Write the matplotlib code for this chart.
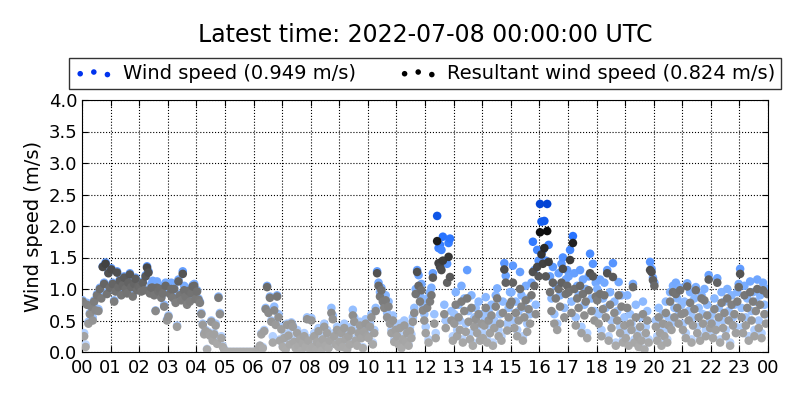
import numpy as np
import matplotlib
matplotlib.use("Agg")
import matplotlib.pyplot as plt
from matplotlib.colors import LinearSegmentedColormap

# 3-minute samples, one row per hour (00..23)
wind_speed = [
    0.82, 0.30, 0.12, 0.78, 0.48, 0.62, 0.75, 0.55, 0.82, 0.70, 0.92, 0.68, 1.02, 0.88, 1.36, 1.10, 1.42, 0.95, 1.26, 1.05,
    1.33, 1.10, 0.82, 0.98, 1.28, 1.05, 1.15, 0.92, 1.08, 1.20, 1.02, 0.95, 1.12, 1.25, 1.05, 0.90, 1.10, 1.18, 1.00, 1.06,
    1.05, 0.98, 1.12, 1.00, 1.22, 1.36, 1.28, 0.95, 1.08, 1.13, 0.92, 0.66, 1.12, 0.98, 1.05, 0.88, 0.96, 0.75, 1.10, 0.52,
    0.58, 0.95, 1.10, 0.88, 1.02, 0.80, 0.42, 1.15, 0.92, 0.85, 1.28, 1.05, 0.90, 0.78, 1.00, 0.82, 0.95, 1.06, 1.08, 0.86,
    0.98, 0.85, 0.80, 0.62, 0.45, 0.30, 0.35, 0.05, 0.32, 0.28, 0.50, 0.20, 0.30, 0.45, 0.15, 0.88, 0.62, 0.25, 0.10, 0.05,
    0.00, 0.00, 0.00, 0.00, 0.00, 0.00, 0.00, 0.00, 0.00, 0.00, 0.00, 0.00, 0.00, 0.00, 0.00, 0.00, 0.00, 0.00, 0.00, 0.00,
    0.00, 0.00, 0.02, 0.05, 0.10, 0.30, 0.08, 0.35, 0.70, 1.05, 0.65, 0.88, 0.50, 0.25, 0.72, 0.45, 0.90, 0.60, 0.20, 0.40,
    0.10, 0.25, 0.05, 0.45, 0.30, 0.15, 0.47, 0.42, 0.20, 0.08, 0.35, 0.12, 0.25, 0.02, 0.18, 0.30, 0.10, 0.55, 0.22, 0.05,
    0.54, 0.10, 0.30, 0.05, 0.20, 0.38, 0.15, 0.02, 0.25, 0.45, 0.12, 0.35, 0.08, 0.22, 0.70, 0.58, 0.30, 0.15, 0.40, 0.10,
    0.20, 0.35, 0.10, 0.45, 0.25, 0.05, 0.30, 0.15, 0.40, 0.67, 0.55, 0.22, 0.12, 0.35, 0.48, 0.28, 0.08, 0.38, 0.52, 0.30,
    0.25, 0.45, 0.60, 0.15, 0.35, 0.70, 1.28, 1.10, 0.95, 1.02, 0.85, 0.75, 0.90, 0.62, 0.80, 0.50, 0.35, 0.58, 0.20, 0.40,
    0.30, 0.15, 0.45, 0.08, 0.25, 0.50, 0.20, 0.35, 0.12, 0.40, 0.28, 0.55, 0.70, 1.00, 1.30, 1.22, 0.90, 1.08, 0.75, 0.60,
    0.40, 0.85, 0.20, 0.95, 1.02, 1.25, 0.60, 0.30, 2.16, 1.65, 1.70, 1.62, 1.83, 0.75, 0.50, 1.40, 1.73, 1.80, 0.65, 0.25,
    0.60, 0.95, 0.35, 0.75, 0.50, 1.05, 0.20, 0.85, 0.45, 1.30, 0.65, 0.30, 0.90, 0.15, 0.55, 0.70, 0.40, 0.80, 0.25, 0.60,
    0.30, 0.55, 0.87, 0.20, 0.65, 0.40, 0.75, 0.15, 0.50, 0.90, 1.01, 0.35, 0.60, 0.25, 0.80, 1.41, 1.21, 0.45, 0.70, 0.95,
    0.95, 1.37, 0.50, 0.80, 0.35, 0.65, 1.27, 0.90, 0.25, 0.70, 1.05, 0.45, 0.85, 0.60, 1.10, 1.75, 1.30, 0.75, 1.62, 1.45,
    2.35, 2.07, 1.62, 2.08, 1.45, 2.35, 1.70, 1.20, 0.85, 1.35, 0.60, 1.05, 0.45, 1.25, 0.90, 1.40, 1.50, 0.70, 1.15, 1.30,
    1.20, 1.62, 0.80, 1.84, 1.25, 0.55, 1.05, 0.90, 1.30, 0.40, 1.15, 0.75, 1.00, 0.30, 1.20, 1.56, 0.85, 1.40, 0.65, 1.10,
    1.00, 0.60, 1.15, 0.35, 0.85, 1.10, 0.70, 1.30, 0.25, 0.95, 0.50, 1.41, 0.80, 0.15, 0.65, 1.11, 0.40, 0.90, 0.20, 0.55,
    0.30, 0.90, 0.15, 0.60, 0.45, 1.08, 0.20, 0.75, 0.35, 0.10, 0.55, 0.25, 0.80, 0.05, 0.40, 0.65, 0.20, 1.43, 1.32, 1.18,
    1.10, 0.50, 0.25, 0.70, 0.40, 0.15, 0.60, 0.35, 0.80, 0.20, 0.55, 0.95, 0.45, 1.05, 0.70, 1.10, 0.85, 0.60, 1.02, 0.75,
    0.45, 0.80, 0.30, 1.09, 0.65, 0.95, 0.20, 0.55, 0.85, 1.03, 0.40, 0.70, 0.25, 0.90, 0.60, 1.00, 0.35, 0.75, 1.22, 0.50,
    0.60, 0.30, 0.85, 0.45, 1.17, 0.70, 0.20, 0.95, 0.50, 0.80, 0.35, 1.00, 0.65, 0.15, 0.90, 0.55, 0.75, 0.40, 0.95, 1.08,
    1.32, 0.70, 0.40, 1.05, 0.55, 0.85, 0.25, 1.12, 0.65, 0.95, 0.35, 0.80, 1.15, 0.50, 0.90, 0.30, 1.10, 0.75, 0.60, 1.00,
]

resultant = [
    0.80, 0.25, 0.08, 0.75, 0.45, 0.60, 0.72, 0.50, 0.80, 0.66, 0.90, 0.65, 1.00, 0.85, 1.35, 1.08, 1.40, 0.92, 1.25, 1.02,
    1.31, 1.08, 0.80, 0.96, 1.26, 1.03, 1.13, 0.90, 1.06, 1.18, 1.00, 0.93, 1.10, 1.23, 1.03, 0.88, 1.08, 1.16, 0.98, 1.04,
    1.03, 0.96, 1.10, 0.98, 1.20, 1.34, 1.26, 0.93, 1.02, 1.02, 0.90, 0.65, 1.02, 0.96, 1.00, 0.86, 0.93, 0.72, 1.05, 0.50,
    0.56, 0.92, 1.00, 0.86, 1.00, 0.78, 0.40, 1.12, 0.90, 0.82, 1.24, 0.98, 0.88, 0.75, 0.97, 0.80, 0.93, 1.04, 1.05, 0.84,
    0.96, 0.83, 0.78, 0.60, 0.43, 0.28, 0.33, 0.04, 0.30, 0.26, 0.48, 0.18, 0.28, 0.42, 0.13, 0.86, 0.60, 0.22, 0.08, 0.03,
    0.00, 0.00, 0.00, 0.00, 0.00, 0.00, 0.00, 0.00, 0.00, 0.00, 0.00, 0.00, 0.00, 0.00, 0.00, 0.00, 0.00, 0.00, 0.00, 0.00,
    0.00, 0.00, 0.02, 0.05, 0.10, 0.28, 0.06, 0.33, 0.68, 1.03, 0.62, 0.86, 0.48, 0.15, 0.66, 0.43, 0.88, 0.55, 0.18, 0.36,
    0.08, 0.22, 0.04, 0.43, 0.26, 0.12, 0.45, 0.40, 0.16, 0.06, 0.30, 0.10, 0.20, 0.02, 0.14, 0.25, 0.08, 0.52, 0.18, 0.04,
    0.50, 0.08, 0.25, 0.04, 0.16, 0.33, 0.12, 0.02, 0.20, 0.40, 0.10, 0.30, 0.06, 0.18, 0.62, 0.52, 0.25, 0.12, 0.35, 0.08,
    0.16, 0.30, 0.08, 0.38, 0.20, 0.04, 0.25, 0.12, 0.34, 0.58, 0.48, 0.18, 0.10, 0.30, 0.42, 0.22, 0.06, 0.32, 0.45, 0.25,
    0.22, 0.40, 0.55, 0.12, 0.30, 0.65, 1.25, 1.05, 0.88, 0.98, 0.80, 0.70, 0.82, 0.55, 0.72, 0.45, 0.30, 0.50, 0.16, 0.35,
    0.25, 0.12, 0.38, 0.06, 0.20, 0.42, 0.16, 0.30, 0.10, 0.33, 0.22, 0.48, 0.62, 0.92, 1.27, 1.05, 0.80, 0.98, 0.66, 0.50,
    0.30, 0.70, 0.15, 0.80, 0.90, 1.18, 0.45, 0.22, 1.76, 1.41, 1.35, 1.30, 1.45, 0.60, 0.38, 1.10, 1.51, 1.19, 0.50, 0.18,
    0.45, 0.75, 0.25, 0.55, 0.35, 0.80, 0.15, 0.65, 0.32, 0.85, 0.48, 0.20, 0.70, 0.10, 0.40, 0.52, 0.30, 0.60, 0.18, 0.45,
    0.22, 0.42, 0.70, 0.15, 0.50, 0.30, 0.58, 0.10, 0.38, 0.72, 0.85, 0.25, 0.45, 0.18, 0.62, 1.31, 1.10, 0.34, 0.55, 0.75,
    0.80, 1.10, 0.38, 0.62, 0.25, 0.50, 1.00, 0.72, 0.18, 0.55, 0.82, 0.32, 0.68, 0.45, 0.90, 1.27, 1.05, 0.60, 1.35, 1.20,
    1.90, 1.55, 1.40, 1.65, 1.20, 1.92, 1.43, 0.95, 0.65, 1.10, 0.45, 0.85, 0.35, 1.00, 0.72, 1.10, 1.32, 0.55, 0.92, 1.05,
    0.95, 1.46, 0.62, 1.73, 1.00, 0.42, 0.85, 0.70, 1.05, 0.30, 0.92, 0.58, 0.80, 0.22, 0.98, 1.25, 0.65, 1.20, 0.50, 0.88,
    0.82, 0.45, 0.92, 0.25, 0.68, 0.90, 0.55, 1.25, 0.18, 0.75, 0.38, 1.19, 0.62, 0.10, 0.50, 0.90, 0.30, 0.72, 0.15, 0.42,
    0.22, 0.70, 0.10, 0.45, 0.35, 1.03, 0.15, 0.55, 0.25, 0.08, 0.40, 0.18, 0.60, 0.04, 0.30, 0.50, 0.15, 1.30, 1.27, 1.14,
    1.05, 0.40, 0.18, 0.55, 0.30, 0.10, 0.45, 0.25, 0.62, 0.15, 0.42, 0.80, 0.35, 0.95, 0.55, 0.92, 0.70, 0.45, 0.98, 0.60,
    0.35, 0.62, 0.22, 1.04, 0.50, 0.78, 0.15, 0.42, 0.68, 0.98, 0.30, 0.55, 0.18, 0.85, 0.45, 0.82, 0.25, 0.58, 1.15, 0.38,
    0.45, 0.22, 0.68, 0.35, 1.10, 0.55, 0.15, 0.78, 0.38, 0.62, 0.25, 0.85, 0.50, 0.10, 0.75, 0.42, 0.60, 0.30, 0.80, 1.03,
    1.24, 0.55, 0.30, 0.90, 0.42, 0.70, 0.18, 0.95, 0.50, 0.80, 0.25, 0.65, 1.00, 0.38, 0.75, 0.22, 0.98, 0.60, 0.45, 0.92,
]

hour_labels = ["%02d" % h for h in range(24)] + ["00"]
latest_ws = 0.949
latest_rs = 0.824

wind_speed = np.array(wind_speed)
resultant = np.array(resultant)
per_hour = 20
times = (np.arange(len(wind_speed)) + 0.5) / per_hour

blues = LinearSegmentedColormap.from_list(
    "ws", [(0.0, "#c6dcff"), (0.4, "#80b2ff"), (0.65, "#4a8cff"), (0.8, "#1f6cff"), (1.0, "#0040d0")])
greys = LinearSegmentedColormap.from_list(
    "rs", [(0.0, "#adadad"), (0.2, "#9c9c9c"), (0.5, "#6e6e6e"), (0.7, "#424242"), (0.95, "#101010"), (1.0, "#000000")])

fig = plt.figure(figsize=(8, 4), dpi=100)
ax = fig.add_axes([0.1025, 0.12, 0.8575, 0.63])

ax.scatter(times, wind_speed, c=wind_speed, cmap=blues, vmin=0, vmax=2.4, s=38, edgecolors="none", zorder=3)
ax.scatter(times, resultant, c=resultant, cmap=greys, vmin=0, vmax=2.0, s=38, edgecolors="none", zorder=4)

# legend proxies
h1 = ax.scatter([], [], color="#0033ee", s=16, edgecolors="none")
h2 = ax.scatter([], [], color="#000000", s=16, edgecolors="none")
leg = ax.legend([h1, h2],
                ["Wind speed (%.3f m/s)" % latest_ws, "Resultant wind speed (%.3f m/s)" % latest_rs],
                loc="lower center", bbox_to_anchor=(0.5, 1.045), ncol=2, scatterpoints=3,
                fontsize=14, frameon=True, fancybox=False, borderaxespad=0,
                handletextpad=0.5, columnspacing=2.2, borderpad=0.3)
leg.get_frame().set_edgecolor("black")
leg.get_frame().set_linewidth(1.0)

ax.set_xlim(0, 24)
ax.set_ylim(0, 4)
ax.set_xticks(range(25))
ax.set_xticklabels(hour_labels)
ax.set_yticks(np.arange(0, 4.01, 0.5))
ax.set_yticklabels(["%.1f" % v for v in np.arange(0, 4.01, 0.5)])
ax.tick_params(direction="in", top=True, right=True, labelsize=13, length=4)
ax.tick_params(axis="x", pad=5)
ax.grid(True, linestyle=":", color="black", linewidth=0.8)
ax.set_axisbelow(True)
ax.set_ylabel("Wind speed (m/s)", fontsize=14)

fig.text(0.531, 0.912, "Latest time: 2022-07-08 00:00:00 UTC", ha="center", va="center", fontsize=17)

fig.savefig("out.png", dpi=100)
